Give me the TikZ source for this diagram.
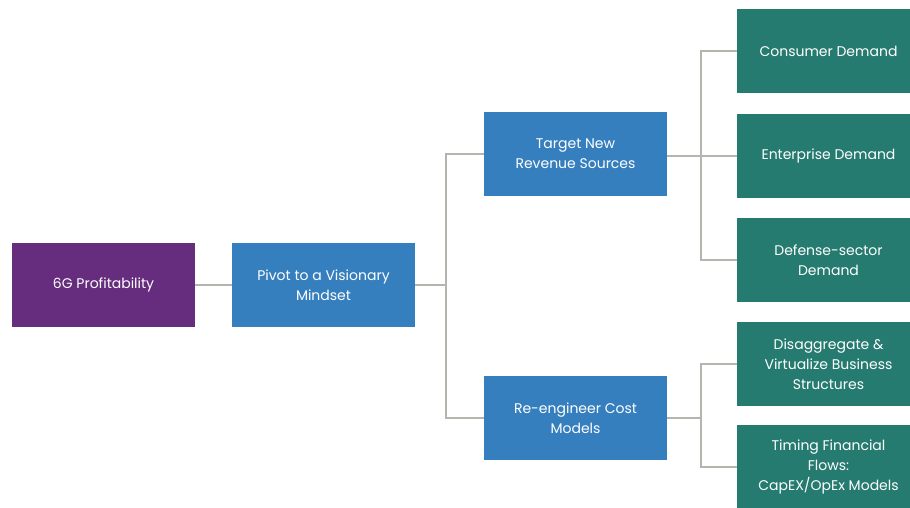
\documentclass[tikz,border=0pt]{standalone}
\usepackage{fontspec}
\setmainfont{Poppins}
\definecolor{rootpurple}{HTML}{662D7E}
\definecolor{midblue}{HTML}{367FBE}
\definecolor{leafgreen}{HTML}{267B70}
\definecolor{linkgray}{HTML}{B5B5AF}
\tikzset{
  box/.style={rectangle, inner sep=0pt, text=white, align=center,
    font=\fontsize{14}{20}\selectfont},
  rootbox/.style={box, fill=rootpurple, minimum width=183pt, minimum height=84pt},
  midbox/.style={box, fill=midblue, minimum width=183pt, minimum height=84pt},
  leafbox/.style={box, fill=leafgreen, minimum width=183pt, minimum height=84pt},
  link/.style={draw=linkgray, line width=2pt}
}
\begin{document}
\begin{tikzpicture}[x=1pt,y=-1pt]
\useasboundingbox (0,0) rectangle (910,508);
% boxes
\node[rootbox] (root) at (103.5,285) {6G Profitability};
\node[midbox] (pivot) at (323.5,285) {Pivot to a Visionary\\Mindset};
\node[midbox] (rev) at (575.5,154) {Target New\\Revenue Sources};
\node[midbox] (cost) at (575.5,418) {Re-engineer Cost\\Models};
\node[leafbox] (cons) at (828.5,51) {Consumer Demand};
\node[leafbox] (ent) at (828.5,156) {Enterprise Demand};
\node[leafbox] (def) at (828.5,260) {Defense-sector\\Demand};
\node[leafbox] (dis) at (828.5,364) {Disaggregate \&\\Virtualize Business\\Structures};
\node[leafbox] (tim) at (828.5,467) {Timing Financial\\Flows:\\CapEX/OpEx Models};
% bus coordinates
\coordinate (b1) at (446,285);
\coordinate (b2) at (701,156);
\coordinate (b3) at (701,418);
% connectors
\draw[link] (root.east) -- (pivot.west);
\draw[link] (pivot.east) -- (b1);
\draw[link] (rev.west) -| (b1) |- (cost.west);
\draw[link] (rev.east |- b2) -- (b2);
\draw[link] (cons.west) -| (b2) |- (def.west);
\draw[link] (b2) -- (ent.west);
\draw[link] (cost.east) -- (b3);
\draw[link] (dis.west) -| (b3) |- (tim.west);
\end{tikzpicture}
\end{document}
